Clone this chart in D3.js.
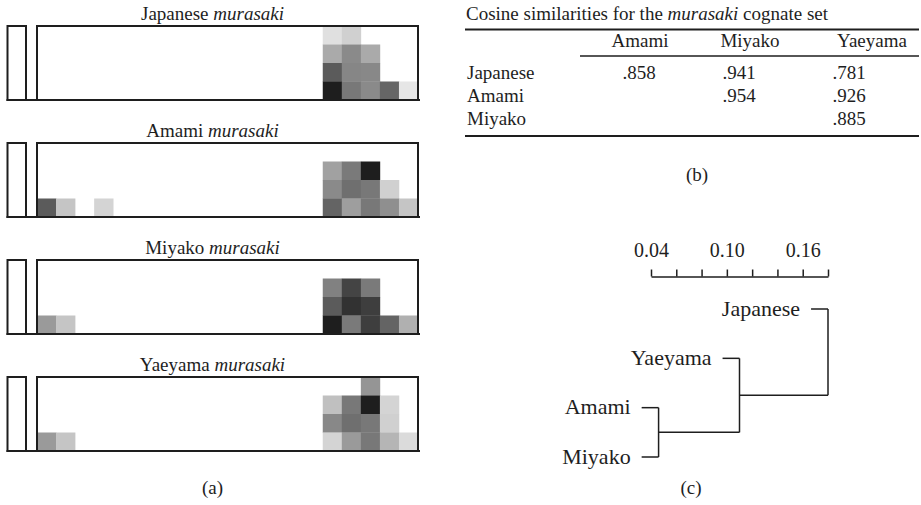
<!DOCTYPE html>
<html><head><meta charset="utf-8">
<script src="https://cdn.jsdelivr.net/npm/d3@7"></script>
<style>body{margin:0;background:#fff} svg{display:block}</style>
</head><body><svg id="chart" width="921" height="505"></svg>
<script>
// ---------------- DATA ----------------
const languages = ["Japanese", "Amami", "Miyako", "Yaeyama"];
const gridCols = d3.range(20);
const gridRows = d3.range(4);
// [row (0 = top), column, darkness 0..1]
const japaneseCells = [[0,15,0.14],[0,16,0.21],[1,15,0.38],[1,16,0.52],[1,17,0.38],[2,15,0.73],[2,16,0.54],[2,17,0.53],[3,15,1.0],[3,16,0.60],[3,17,0.52],[3,18,0.68],[3,19,0.11]];
const amamiCells = [[1,15,0.42],[1,16,0.59],[1,17,1.0],[2,15,0.52],[2,16,0.64],[2,17,0.60],[2,18,0.21],[3,0,0.73],[3,1,0.26],[3,3,0.19],[3,15,0.69],[3,16,0.43],[3,17,0.60],[3,18,0.50],[3,19,0.26]];
const miyakoCells = [[1,15,0.56],[1,16,0.83],[1,17,0.59],[2,15,0.73],[2,16,0.91],[2,17,0.86],[3,0,0.45],[3,1,0.26],[3,15,1.0],[3,16,0.59],[3,17,0.86],[3,18,0.69],[3,19,0.35]];
const yaeyamaCells = [[0,17,0.47],[1,15,0.28],[1,16,0.60],[1,17,1.0],[1,18,0.19],[2,15,0.53],[2,16,0.64],[2,17,0.60],[2,18,0.21],[3,0,0.45],[3,1,0.26],[3,15,0.19],[3,16,0.45],[3,17,0.60],[3,18,0.33],[3,19,0.16]];
const panelCells = [japaneseCells, amamiCells, miyakoCells, yaeyamaCells];

const tableTitle = "Cosine similarities for the";
const tableTitleItalic = "murasaki";
const tableTitleEnd = "cognate set";
const tableColumns = ["Amami", "Miyako", "Yaeyama"];
const tableRows = ["Japanese", "Amami", "Miyako"];
const similarities = [[".858", ".941", ".781"], ["", ".954", ".926"], ["", "", ".885"]];

const axisTicks = [0.04, 0.06, 0.08, 0.10, 0.12, 0.14, 0.16, 0.18];
const axisLabels = ["0.04", "0.10", "0.16"];
const leafOrder = ["Japanese", "Yaeyama", "Amami", "Miyako"];
const tree = {height: 0.18, children: [
  {name: "Japanese"},
  {height: 0.110, children: [
    {name: "Yaeyama"},
    {height: 0.046, children: [{name: "Amami"}, {name: "Miyako"}]}
  ]}
]};
const panelLetters = ["(a)", "(b)", "(c)"];

// ---------------- DRAWING ----------------
const svg = d3.select("#chart");
const FONT = "Liberation Serif";
const INK = "#1e1e1e";
const baseSize = 19;
const leafSize = 22;

// ---- (a) heatmaps ----
const color = d3.scaleLinear().domain([0, 1]).range(["#ffffff", INK]);
const xCell = d3.scaleBand().domain(gridCols).range([37, 418]);
const panelTops = d3.scalePoint().domain(languages).range([26, 377]);
const boxH = 74;

languages.forEach((lang, i) => {
  const top = panelTops(lang);
  const g = svg.append("g");
  const yCell = d3.scaleBand().domain(gridRows).range([top, top + boxH]);
  g.selectAll("rect.cell").data(panelCells[i]).join("rect").attr("class", "cell")
    .attr("x", d => xCell(d[1])).attr("y", d => yCell(d[0]))
    .attr("width", xCell.bandwidth() + 0.3).attr("height", yCell.bandwidth() + 0.3)
    .attr("fill", d => color(d[2]));
  g.append("rect").attr("x", 37).attr("y", top).attr("width", 381).attr("height", boxH)
    .attr("fill", "none").attr("stroke", INK).attr("stroke-width", 2);
  g.append("rect").attr("x", 7.5).attr("y", top).attr("width", 18.5).attr("height", boxH)
    .attr("fill", "none").attr("stroke", INK).attr("stroke-width", 2);
  g.append("line").attr("x1", 6.5).attr("x2", 420).attr("y1", top + boxH).attr("y2", top + boxH)
    .attr("stroke", INK).attr("stroke-width", 2);
  const t = g.append("text").attr("x", 212.5).attr("y", top - 6.5).attr("text-anchor", "middle")
    .attr("font-family", FONT).attr("font-size", baseSize).attr("fill", INK);
  t.append("tspan").text(lang + " ");
  t.append("tspan").attr("font-style", "italic").text("murasaki");
});

// ---- (b) table ----
const tg = svg.append("g").attr("font-family", FONT).attr("fill", INK).attr("font-size", baseSize);
const tt = tg.append("text").attr("x", 466).attr("y", 20);
tt.append("tspan").text(tableTitle + " ");
tt.append("tspan").attr("font-style", "italic").text(tableTitleItalic);
tt.append("tspan").text(" " + tableTitleEnd);
tg.append("line").attr("x1", 465).attr("x2", 919).attr("y1", 29.5).attr("y2", 29.5).attr("stroke", INK).attr("stroke-width", 2);
tg.append("line").attr("x1", 580).attr("x2", 919).attr("y1", 56).attr("y2", 56).attr("stroke", INK).attr("stroke-width", 1.4);
tg.append("line").attr("x1", 465).attr("x2", 919).attr("y1", 136).attr("y2", 136).attr("stroke", INK).attr("stroke-width", 2);
const headX = d3.scaleOrdinal().domain(tableColumns).range([640, 750, 872]);
const valX = d3.scaleOrdinal().domain(tableColumns).range([639, 739, 849]);
tg.selectAll("text.hd").data(tableColumns).join("text").attr("class", "hd")
  .attr("x", d => headX(d)).attr("y", 47).attr("text-anchor", "middle").text(d => d);
const rowY = d3.scalePoint().domain(tableRows).range([78.5, 125]);
tableRows.forEach((r, i) => {
  tg.append("text").attr("x", 467).attr("y", rowY(r)).text(r);
  tableColumns.forEach((c, j) => {
    if (similarities[i][j]) tg.append("text").attr("x", valX(c)).attr("y", rowY(r))
      .attr("text-anchor", "middle").text(similarities[i][j]);
  });
});

// ---- (c) dendrogram ----
const xD = d3.scaleLinear().domain([0.04, 0.18]).range([651, 828]);
const axis = d3.axisTop(xD).tickValues(axisTicks).tickSize(7).tickSizeOuter(0).tickPadding(13)
  .tickFormat(d => { const s = d.toFixed(2); return axisLabels.includes(s) ? s : ""; });
const ag = svg.append("g").attr("transform", "translate(0,276.5)").call(axis);
ag.selectAll("path,line").attr("stroke", INK).attr("stroke-width", 1.5);
ag.selectAll("text").attr("font-family", FONT).attr("font-size", 20).attr("fill", INK);

const root = d3.hierarchy(tree);
const heights = root.descendants().filter(d => d.children).map(d => d.data.height);
const hang = 0.1 * (d3.max(heights) - d3.min(heights));
const yLeaf = d3.scalePoint().domain(leafOrder).range([309, 457]);
root.eachAfter(n => {
  n.y = n.children ? d3.mean(n.children, c => c.y) : yLeaf(n.data.name);
});
const dg = svg.append("g").attr("stroke", INK).attr("stroke-width", 1.5).attr("fill", "none");
root.each(n => {
  if (!n.children) return;
  const px = xD(n.data.height);
  dg.append("line").attr("x1", px).attr("x2", px)
    .attr("y1", d3.min(n.children, c => c.y)).attr("y2", d3.max(n.children, c => c.y));
  n.children.forEach(c => {
    const cx = c.children ? xD(c.data.height) : xD(n.data.height - hang);
    dg.append("line").attr("x1", cx).attr("x2", px).attr("y1", c.y).attr("y2", c.y);
    if (!c.children) {
      svg.append("text").attr("x", cx - 11).attr("y", c.y).attr("dy", "0.3em")
        .attr("text-anchor", "end").attr("font-family", FONT).attr("font-size", leafSize)
        .attr("fill", INK).text(c.data.name);
    }
  });
});

// ---- panel letters ----
const letterX = d3.scaleOrdinal().domain(panelLetters).range([212.5, 697, 691]);
const letterY = d3.scaleOrdinal().domain(panelLetters).range([494, 181, 494]);
svg.selectAll("text.letter").data(panelLetters).join("text").attr("class", "letter")
  .attr("x", d => letterX(d)).attr("y", d => letterY(d)).attr("text-anchor", "middle")
  .attr("font-family", FONT).attr("font-size", baseSize).attr("fill", INK).text(d => d);
</script></body></html>
